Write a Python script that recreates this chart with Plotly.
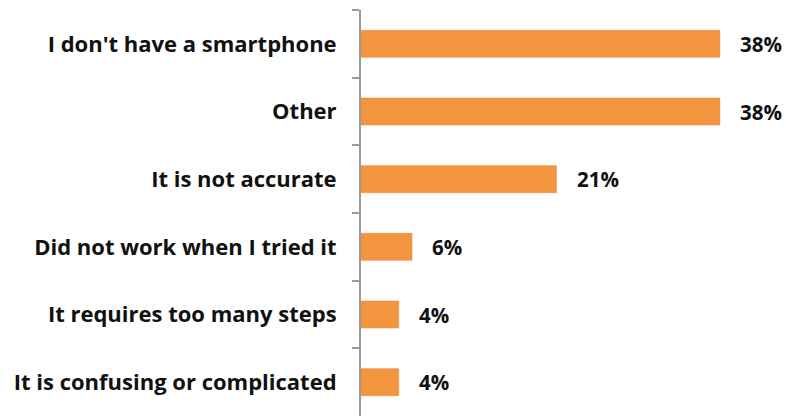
import plotly.graph_objects as go

categories = [
    "I don't have a smartphone",
    "Other",
    "It is not accurate",
    "Did not work when I tried it",
    "It requires too many steps",
    "It is confusing or complicated",
]
values = [38.0, 38.0, 20.7, 5.4, 4.0, 4.0]
value_labels = ["38%", "38%", "21%", "6%", "4%", "4%"]

bar_color = "#F3943F"
font_family = "Open Sans, Lato, sans-serif"

fig = go.Figure()
fig.add_trace(go.Bar(
    x=values,
    y=categories,
    orientation="h",
    marker=dict(color=bar_color, line=dict(color="#E8873A", width=0.5)),
    hoverinfo="skip",
))

for c, v, t in zip(categories, values, value_labels):
    fig.add_annotation(
        x=v, y=c, text="<b>%s</b>" % t, showarrow=False,
        xanchor="left", xshift=18, yanchor="middle",
        font=dict(family=font_family, size=20.5, color="#111111"),
    )

fig.update_layout(
    width=786, height=416,
    margin=dict(l=361, r=0, t=10, b=0),
    paper_bgcolor="white", plot_bgcolor="white",
    bargap=0.6,
    showlegend=False,
    hovermode=False,
    xaxis=dict(range=[0, 45.0], visible=False, fixedrange=True),
    yaxis=dict(
        autorange="reversed",
        showline=True, linecolor="#9A9A9A", linewidth=2,
        ticks="outside", ticklen=7, tickcolor="#9A9A9A", tickwidth=1.5,
        tickson="boundaries",
        ticklabelstandoff=18,
        tickfont=dict(family=font_family, size=22, color="#111111"),
        tickprefix="<b>", ticksuffix="</b>",
        showgrid=False, zeroline=False,
        automargin=False,
        fixedrange=True,
    ),
)

fig.write_html(
    "out.html",
    config={"displayModeBar": False},
    post_script="document.body.style.margin='0px';document.body.style.overflow='hidden';",
)
